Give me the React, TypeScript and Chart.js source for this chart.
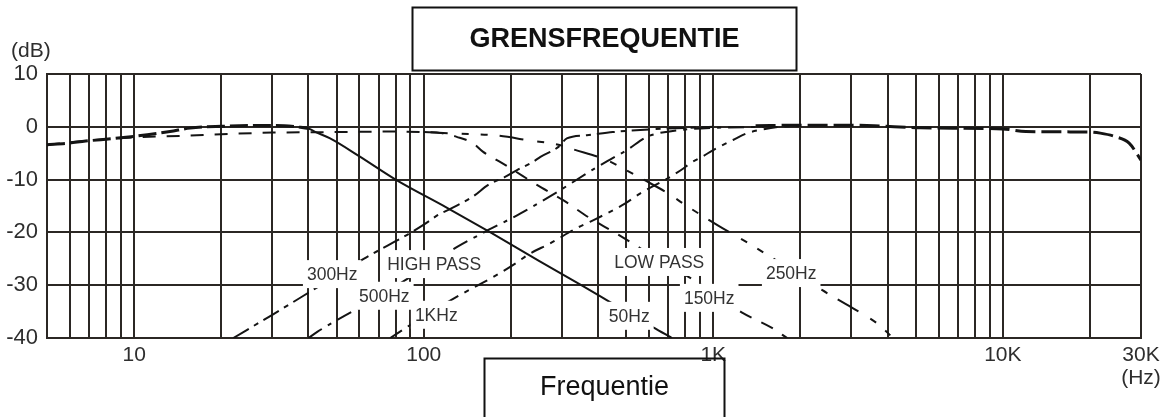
import React, { useEffect, useRef } from 'react';
import { Chart, registerables } from 'chart.js';

Chart.register(...registerables);

// ---- axes ----
const xTicks = [5, 6, 7, 8, 9, 10, 20, 30, 40, 50, 60, 70, 80, 90, 100, 200, 300, 400, 500, 600, 700, 800, 900,
  1000, 2000, 3000, 4000, 5000, 6000, 7000, 8000, 9000, 10000, 20000, 30000];
const xTickLabels: Record<number, string | string[]> = { 10: '10', 100: '100', 1000: '1K', 10000: '10K', 30000: ['30K', '(Hz)'] };
const yTicks = [10, 0, -10, -20, -30, -40];

// ---- curves (Hz, dB) ----
const flatLowFreq = [5, 5.9, 6.8, 8.6, 11.1, 13.3, 15.6, 20, 26, 33, 40];
const flatLowDb = [-3.4, -3.1, -2.7, -2.2, -1.5, -0.9, -0.25, 0.1, 0.25, 0.2, -0.3];

const lp50Freq = [40, 42, 47.5, 60, 80, 120, 170, 250, 350, 440, 620, 720];
const lp50Db = [-0.3, -0.9, -2.2, -5.6, -10, -15.3, -20, -25.4, -30, -33.2, -38, -40];

const lp150Freq = [5, 7, 10, 15, 20, 30, 50, 80, 100, 115, 130, 148, 160, 179, 200, 246, 303, 375, 459, 560, 700, 854, 1050, 1267, 1595, 1800];
const lp150Db = [-3.4, -2.6, -2, -1.7, -1.4, -1.1, -1, -0.9, -1, -1.2, -1.9, -3.1, -4.7, -6.3, -7.9, -11, -13.9, -17.3, -20.1, -23, -26.2, -29, -32.3, -35.3, -38.1, -40];

const lp250Freq = [100, 130, 175, 233, 292, 330, 428, 500, 574, 693, 800, 1040, 1300, 1573, 2000, 2373, 3000, 3672, 4180];
const lp250Db = [-1, -1.3, -1.6, -2.6, -3.4, -4.3, -6.3, -8.2, -10, -12.5, -14.8, -18.7, -21.8, -24.6, -28.2, -30.9, -34.2, -37.2, -40];

const hp300Freq = [22, 30, 42, 62, 75, 88, 101, 112, 125, 148, 167, 191, 210, 239, 253, 292, 312, 366, 450, 600, 800, 1000];
const hp300Db = [-40, -35.6, -30.7, -25, -22.5, -20.4, -18.4, -16.7, -15.4, -13.2, -11, -9.5, -8.2, -6.6, -5.7, -3.8, -2.2, -1.6, -1, -0.5, -0.2, 0];

const hp500Freq = [40, 43, 59.5, 81, 100, 130, 160, 216, 296, 381, 440, 503, 590, 650, 800, 1000, 1500];
const hp500Db = [-40, -38.8, -34.3, -30, -26.8, -22.8, -20.1, -16.4, -12, -8.2, -6.2, -4.4, -1.9, -1.2, -0.5, -0.2, 0];

const hp1kFreq = [76.6, 90, 133, 177, 207, 233, 273, 337, 375, 497, 560, 709, 788, 833, 926, 1000, 1170, 1310, 1450, 1700, 2000];
const hp1kDb = [-40, -37.5, -31.9, -28.2, -25.9, -24, -22.1, -19.2, -18, -14.5, -12.6, -9.5, -7.9, -6.9, -5.5, -4.4, -2.5, -1.2, -0.6, 0, 0.2];

const flatHighFreq = [1400, 2000, 3000, 3600, 5200, 10000, 12000, 20000, 21700, 24600, 27300, 30000];
const flatHighDb = [0.2, 0.3, 0.3, 0.2, -0.2, -0.4, -0.9, -1, -1.2, -1.9, -3.1, -6.3];

// ---- curve labels ----
const noteText = ['300Hz', 'HIGH PASS', '500Hz', '1KHz', '50Hz', 'LOW PASS', '150Hz', '250Hz'];
const noteFreq = [48.3, 108.7, 73.1, 110.5, 512.5, 650.6, 968, 1858];
const noteDb = [-27.9, -26, -32, -35.6, -35.8, -25.6, -32.4, -27.7];

const FONT = '"Liberation Sans", Arial, sans-serif';
const gridColor = '#2b2724';
const lineColor = '#141414';

const zip = (f: number[], d: number[]) => f.map((x, i) => ({ x, y: d[i] }));

const overlay = {
  id: 'overlay',
  afterDatasetsDraw(chart: any) {
    const ctx = chart.ctx;
    const xs = chart.scales.x;
    const ys = chart.scales.y;
    ctx.save();
    ctx.font = `17.5px ${FONT}`;
    ctx.textAlign = 'center';
    ctx.textBaseline = 'middle';
    noteText.forEach((t, i) => {
      const x = xs.getPixelForValue(noteFreq[i]);
      const y = ys.getPixelForValue(noteDb[i]);
      const w = ctx.measureText(t).width;
      ctx.fillStyle = '#ffffff';
      ctx.fillRect(x - w / 2 - 4, y - 14, w + 8, 28);
      ctx.fillStyle = '#333333';
      ctx.fillText(t, x, y + 1);
    });
    ctx.restore();
  },
  afterDraw(chart: any) {
    const ctx = chart.ctx;
    ctx.save();
    // title box
    ctx.strokeStyle = '#111111';
    ctx.lineWidth = 2;
    ctx.strokeRect(412.5, 7.5, 384, 63);
    ctx.fillStyle = '#111111';
    ctx.textAlign = 'center';
    ctx.textBaseline = 'alphabetic';
    ctx.font = `bold 27px ${FONT}`;
    ctx.fillText('GRENSFREQUENTIE', 604.5, 47);
    // x axis title box
    ctx.strokeRect(484.5, 358.5, 240, 90);
    ctx.font = `27px ${FONT}`;
    ctx.fillText('Frequentie', 604.5, 395);
    // y unit
    ctx.textAlign = 'left';
    ctx.fillStyle = '#2e2e2e';
    ctx.font = `21px ${FONT}`;
    ctx.fillText('(dB)', 11, 57);
    ctx.restore();
  },
};

export default function App() {
  const ref = useRef<HTMLCanvasElement | null>(null);

  useEffect(() => {
    if (!ref.current) return;
    const common = {
      borderColor: lineColor,
      pointRadius: 0,
      fill: false,
      cubicInterpolationMode: 'monotone' as const,
      borderCapStyle: 'butt' as const,
    };
    const chart = new Chart(ref.current, {
      type: 'line',
      data: {
        datasets: [
          { ...common, data: zip(flatLowFreq, flatLowDb), borderWidth: 3, borderDash: [18, 5] },
          { ...common, data: zip(lp50Freq, lp50Db), borderWidth: 2 },
          { ...common, data: zip(lp150Freq, lp150Db), borderWidth: 2, borderDash: [13, 11] },
          { ...common, data: zip(lp250Freq, lp250Db), borderWidth: 2, borderDash: [24, 14, 7, 12, 7, 12] },
          { ...common, data: zip(hp300Freq, hp300Db), borderWidth: 2, borderDash: [18, 6, 5, 6] },
          { ...common, data: zip(hp500Freq, hp500Db), borderWidth: 2, borderDash: [16, 7, 4, 7] },
          { ...common, data: zip(hp1kFreq, hp1kDb), borderWidth: 2, borderDash: [14, 7, 5, 7] },
          { ...common, data: zip(flatHighFreq, flatHighDb), borderWidth: 3, borderDash: [20, 6] },
        ] as any,
      },
      options: {
        animation: false,
        responsive: false,
        devicePixelRatio: 1,
        layout: { padding: { left: 0, right: 27, top: 74, bottom: 0 } },
        plugins: { legend: { display: false }, tooltip: { enabled: false } },
        scales: {
          x: {
            type: 'logarithmic',
            min: 5,
            max: 30000,
            afterBuildTicks: (s: any) => { s.ticks = xTicks.map((v) => ({ value: v })); },
            afterFit: (s: any) => { s.height = 79; },
            ticks: {
              autoSkip: false,
              maxRotation: 0,
              minRotation: 0,
              padding: 6,
              color: '#2e2e2e',
              font: { family: FONT, size: 21, lineHeight: 1.1 },
              callback: (v: any) => xTickLabels[Number(v)] ?? '',
            },
            grid: { color: gridColor, lineWidth: 2, drawTicks: false },
            border: { display: true, color: gridColor, width: 2 },
          },
          y: {
            type: 'linear',
            min: -40,
            max: 10,
            afterBuildTicks: (s: any) => { s.ticks = yTicks.map((v) => ({ value: v })); },
            afterFit: (s: any) => { s.width = 47; },
            ticks: {
              padding: 9,
              color: '#2e2e2e',
              font: { family: FONT, size: 22 },
              callback: (v: any) => String(v),
            },
            grid: { color: gridColor, lineWidth: 2, drawTicks: false },
            border: { display: true, color: gridColor, width: 2 },
          },
        },
      } as any,
      plugins: [overlay],
    });
    return () => chart.destroy();
  }, []);

  return (
    <div style={{ position: 'fixed', left: 0, top: 0, width: 1168, height: 417, background: '#ffffff' }}>
      <canvas ref={ref} width={1168} height={417} style={{ width: 1168, height: 417, display: 'block' }} />
    </div>
  );
}
